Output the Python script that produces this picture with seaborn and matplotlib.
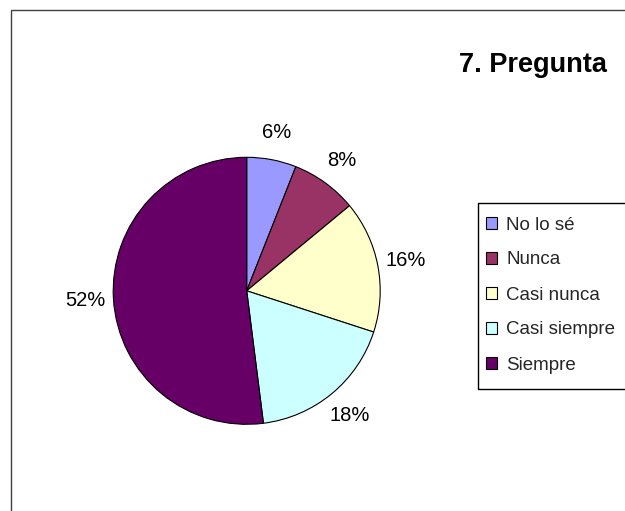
import matplotlib
matplotlib.use("Agg")
import matplotlib.pyplot as plt
from matplotlib.patches import Rectangle
import seaborn as sns

categories = ["No lo sé", "Nunca", "Casi nunca", "Casi siempre", "Siempre"]
values = [6, 8, 16, 18, 52]
colors = ["#9999FF", "#993366", "#FFFFCC", "#CCFFFF", "#660066"]
title = "7. Pregunta"

sns.set_theme(style="white")
plt.rcParams["font.family"] = ["Liberation Sans", "DejaVu Sans"]

W, H = 625, 511
fig = plt.figure(figsize=(W / 100, H / 100), dpi=100)
fig.patch.set_facecolor("white")

# chart area border (cropped at right and bottom)
fig.add_artist(Rectangle((10.5 / W, -0.2), 1.5, 1 - 10.5 / H + 0.2,
                         transform=fig.transFigure, fill=False,
                         edgecolor="#404040", linewidth=1.0))

cx, cy, r = 246.7, 290.8, 133.5
half = 1.25 * r
ax = fig.add_axes([(cx - half) / W, (H - cy - half) / H, 2 * half / W, 2 * half / H])
wedges, texts, autotexts = ax.pie(
    values, colors=colors, startangle=90, counterclock=False,
    autopct="%1.0f%%", pctdistance=1.21,
    wedgeprops=dict(edgecolor="black", linewidth=0.8),
    textprops=dict(fontsize=14.5, color="black"))
ax.set_xlim(-1.25, 1.25)
ax.set_ylim(-1.25, 1.25)
ax.set_aspect("equal")

fig.text(533 / W, 1 - 71.5 / H, title, ha="center", va="baseline",
         fontsize=19.5, fontweight="bold", color="black")

# legend box frame (cropped at right edge)
fig.add_artist(Rectangle((478.5 / W, 1 - 388.5 / H), 0.5, (388.5 - 202.5) / H,
                         transform=fig.transFigure, fill=False,
                         edgecolor="black", linewidth=1.0))

leg = fig.legend(wedges, categories, loc="upper left",
                 bbox_to_anchor=(485.5 / W, 1 - 216.5 / H),
                 borderaxespad=0, fontsize=13.5, frameon=False,
                 handlelength=0.6, handleheight=0.6, handletextpad=0.5,
                 labelspacing=0.96, borderpad=0.0)
for h in leg.legend_handles:
    h.set_edgecolor("black")
    h.set_linewidth(0.8)

fig.savefig("out.png", dpi=100)
